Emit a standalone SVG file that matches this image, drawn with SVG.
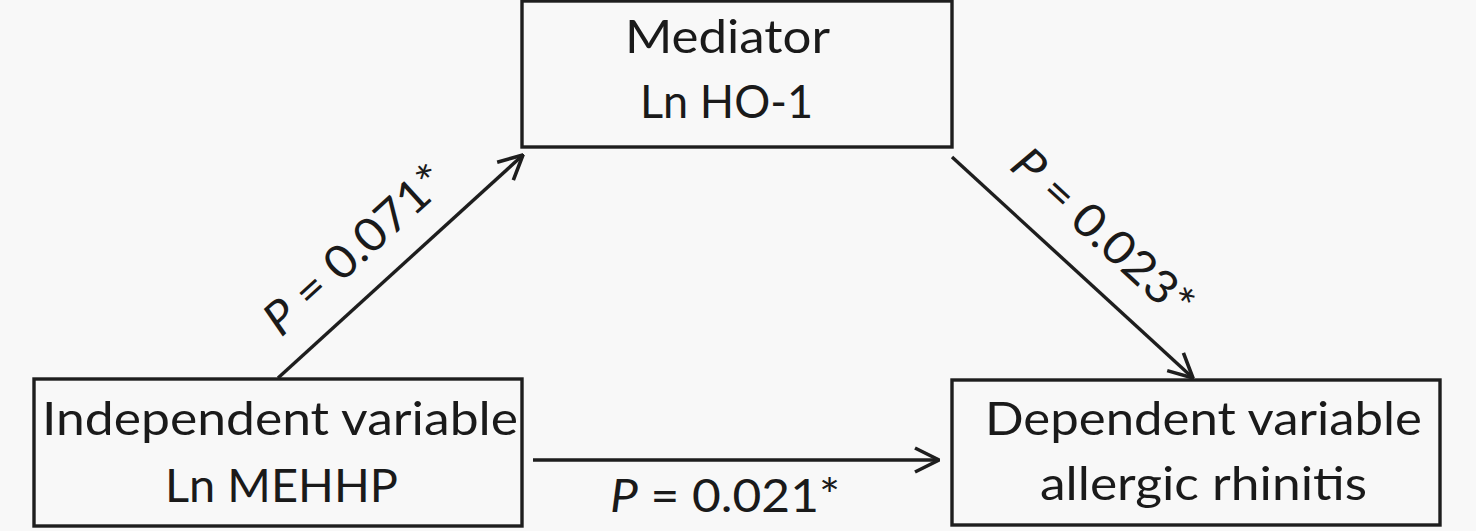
<svg xmlns="http://www.w3.org/2000/svg" width="1476" height="531" viewBox="0 0 1476 531">
<defs>
<style>
.box{fill:#f8f8f8;stroke:#1e1e1e;stroke-width:3.4}
.t{font-family:Lato,"Liberation Sans",sans-serif;font-size:46px;fill:#1a1a1a}
.c{stroke:#1e1e1e;stroke-width:3.4;fill:none}
.i{font-style:italic}
</style>
<marker id="ah" viewBox="0 0 28 28" refX="27" refY="14" markerWidth="28" markerHeight="28" markerUnits="userSpaceOnUse" orient="auto">
<path d="M3,2 L27,14 L3,26" fill="none" stroke="#1e1e1e" stroke-width="3.6"/>
</marker>
</defs>
<rect width="1476" height="531" fill="#f8f8f8"/>
<g id="mediator">
<rect class="box" x="522" y="1" width="430" height="146"/>
<text class="t" x="625" y="53" textLength="205" lengthAdjust="spacingAndGlyphs">Mediator</text>
<text class="t" x="640" y="118" textLength="173" lengthAdjust="spacingAndGlyphs">Ln HO-1</text>
</g>
<g id="independent">
<rect class="box" x="34" y="379" width="488" height="147"/>
<text class="t" x="42" y="435" textLength="476" lengthAdjust="spacingAndGlyphs">Independent variable</text>
<text class="t" x="165" y="502" textLength="233" lengthAdjust="spacingAndGlyphs">Ln MEHHP</text>
</g>
<g id="dependent">
<rect class="box" x="952" y="380" width="488" height="145"/>
<text class="t" x="985" y="435" textLength="437" lengthAdjust="spacingAndGlyphs">Dependent variable</text>
<text class="t" x="1040" y="500" textLength="327" lengthAdjust="spacingAndGlyphs">allergic rhinitis</text>
</g>
<g id="connectors">
<line class="c" x1="278" y1="378" x2="523" y2="155" marker-end="url(#ah)"/>
<line class="c" x1="952" y1="157" x2="1193" y2="378" marker-end="url(#ah)"/>
<line class="c" x1="533" y1="460" x2="939" y2="460" marker-end="url(#ah)"/>
<text class="t" transform="translate(281,338) rotate(-42.3)" textLength="228" lengthAdjust="spacingAndGlyphs"><tspan class="i">P</tspan> = 0.071*</text>
<text class="t" transform="translate(1008,168) rotate(42.5)" textLength="228" lengthAdjust="spacingAndGlyphs"><tspan class="i">P</tspan> = 0.023*</text>
<text class="t" x="610" y="512" textLength="230" lengthAdjust="spacingAndGlyphs"><tspan class="i">P</tspan> = 0.021*</text>
</g>
</svg>
